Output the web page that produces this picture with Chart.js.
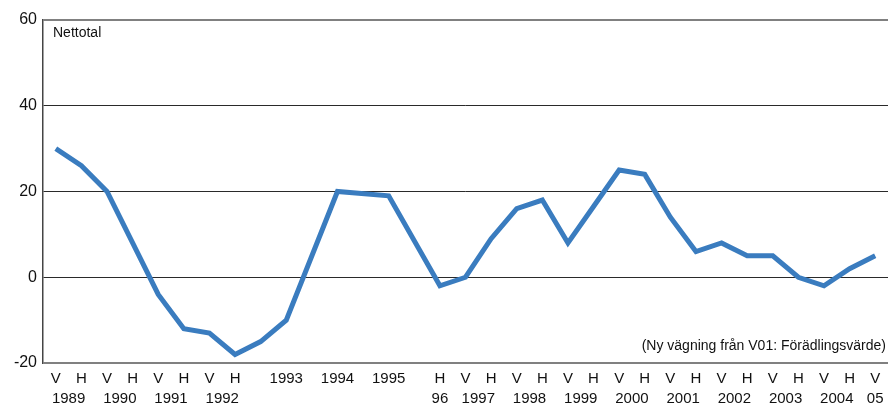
<!DOCTYPE html>
<html>
<head>
<meta charset="utf-8">
<script src="https://cdn.jsdelivr.net/npm/chart.js@4/dist/chart.umd.min.js"></script>
<style>
  html, body { margin: 0; padding: 0; background: #ffffff; }
  canvas { display: block; }
</style>
</head>
<body>
<canvas id="c" width="888" height="408"></canvas>
<script>
// ---- Data ----
const periodLabels = ['V','H','V','H','V','H','V','H','','1993','','1994','','1995','','H',
                      'V','H','V','H','V','H','V','H','V','H','V','H','V','H','V','H','V'];
const nettotal = [30, 26, 20, 8, -4, -12, -13, -18, -15, -10, null, 20, null, 19, null, -2,
                  0, 9, 16, 18, 8, 16.5, 25, 24, 14, 6, 8, 5, 5, 0, -2, 2, 5];
const yearLabels = ['1989','1990','1991','1992','96','1997','1998','1999','2000','2001','2002','2003','2004','05'];
const yearTickIndex = [0.5, 2.5, 4.5, 6.5, 15, 16.5, 18.5, 20.5, 22.5, 24.5, 26.5, 28.5, 30.5, 32];
const yTicks = [-20, 0, 20, 40, 60];
const seriesName = 'Nettotal';
const noteText = '(Ny vägning från V01: Förädlingsvärde)';

const FONT = "'Liberation Sans', Arial, Helvetica, sans-serif";

const textPlugin = {
  id: 'texts',
  afterDraw(chart) {
    const { ctx, chartArea } = chart;
    ctx.save();
    ctx.fillStyle = '#111';
    ctx.font = '14px ' + FONT;
    ctx.textBaseline = 'middle';
    ctx.textAlign = 'left';
    ctx.fillText(seriesName, chartArea.left + 10, chartArea.top + 13);
    ctx.textAlign = 'right';
    ctx.fillText(noteText, chartArea.right - 2, chartArea.bottom - 17);
    ctx.restore();
  }
};

new Chart(document.getElementById('c'), {
  type: 'line',
  data: {
    labels: periodLabels,
    datasets: [{
      label: seriesName,
      data: nettotal,
      borderColor: '#3a7cbf',
      backgroundColor: '#3a7cbf',
      borderWidth: 5,
      pointRadius: 0,
      pointHoverRadius: 0,
      tension: 0,
      spanGaps: true,
      fill: false
    }]
  },
  options: {
    responsive: false,
    animation: false,
    events: [],
    layout: { padding: { top: 20, right: 0, left: 0, bottom: 0 } },
    plugins: { legend: { display: false }, tooltip: { enabled: false }, title: { display: false } },
    scales: {
      x: {
        type: 'category',
        position: 'bottom',
        offset: true,
        grid: { display: false, drawTicks: false },
        border: { display: false },
        ticks: {
          autoSkip: false, maxRotation: 0, minRotation: 0, padding: 7,
          color: '#111', font: { size: 15, family: FONT }
        },
        afterFit(scale) { scale.height = 24; }
      },
      x2: {
        type: 'linear',
        position: 'bottom',
        min: -0.5,
        max: 32.5,
        bounds: 'data',
        grid: { display: false, drawTicks: false },
        border: { display: false },
        afterBuildTicks(scale) { scale.ticks = yearTickIndex.map(v => ({ value: v })); },
        ticks: {
          autoSkip: false, maxRotation: 0, minRotation: 0, padding: 3,
          color: '#111', font: { size: 15, family: FONT },
          callback: (v, i) => yearLabels[i]
        },
        afterFit(scale) { scale.height = 21; }
      },
      y: {
        type: 'linear',
        min: -20,
        max: 60,
        afterBuildTicks(scale) { scale.ticks = yTicks.map(v => ({ value: v })); },
        grid: {
          drawTicks: false,
          color: ctx => (ctx.tick && (ctx.tick.value === 60 || ctx.tick.value === -20)) ? '#808080' : '#2a2a2a',
          lineWidth: ctx => (ctx.tick && (ctx.tick.value === 60 || ctx.tick.value === -20)) ? 2 : 1
        },
        border: { display: true, color: '#444', width: 1.5 },
        ticks: {
          padding: 6, color: '#111', font: { size: 16, family: FONT }
        },
        afterFit(scale) { scale.width = 43; }
      }
    }
  },
  plugins: [textPlugin]
});
</script>
</body>
</html>
